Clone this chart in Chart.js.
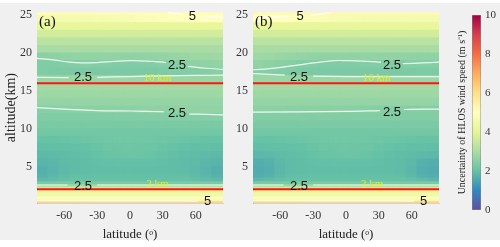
<!DOCTYPE html>
<html><head><meta charset="utf-8">
<script src="https://cdn.jsdelivr.net/npm/chart.js@4/dist/chart.umd.min.js"></script>
<style>
html,body{margin:0;padding:0;}
body{width:500px;height:247px;background:#fff;position:relative;overflow:hidden;}
#bg{position:absolute;left:0;top:3px;width:500px;height:237px;background:#f0f0f0;}
canvas{position:absolute;top:0;}
</style></head><body>
<div id="bg"></div>
<canvas id="ca" width="230" height="247" style="left:0"></canvas>
<canvas id="cb" width="230" height="247" style="left:216px"></canvas>
<canvas id="cc" width="54" height="247" style="left:446px"></canvas>
<script>
// ---------- data ----------
const lats = [-80,-70,-60,-50,-40,-30,-20,-10,0,10,20,30,40,50,60,70,80];
const altEdges = [0.2,0.35,0.6,1.0,1.5,2.0,2.3,2.6,3.0,3.5,4,5,6,7,8,9,10,11,12,13,14,15,16,17,18,19,20,21,22,23,24,25,25.5];
const xTicks = [-60,-30,0,30,60];
const yTicks = [5,10,15,20,25];
const cbTicks = [0,2,4,6,8,10];
const gridLats = [-78.5,-64.2,-49.9,-35.6,-21.3,-7,7.3,21.6,35.9,50.2,64.5,78.8];
const gridAlts = [1.2,3.05,4.9,6.75,8.6,10.45,12.3,14.15,16,17.85,19.7,21.55,23.4,25.25];
const cmap = ['#5e4fa2','#3288bd','#66c2a5','#abdda4','#e6f598','#ffffbf','#fee08b','#fdae61','#f46d43','#d53e4f','#9e0142'];

const gridA = [
[6.2,6.2,6.2,6.2,6.2,6.2,6.2,6.2,6.2,6.2,6.2,6.2,6.2,6.2,6.2,6.2,6.2],
[5.3,5.3,5.3,5.3,5.3,5.3,5.3,5.3,5.3,5.3,5.3,5.3,5.3,5.3,5.3,5.3,5.3],
[4.8,4.8,4.8,4.8,4.8,4.8,4.8,4.8,4.8,4.8,4.8,4.8,4.8,4.8,4.8,4.8,4.8],
[4.4,4.4,4.4,4.4,4.4,4.4,4.4,4.4,4.4,4.4,4.4,4.4,4.4,4.4,4.4,4.4,4.4],
[4.0,4.0,4.0,4.0,4.0,4.0,4.0,4.0,4.0,4.0,4.0,4.0,4.0,4.0,4.0,4.0,4.0],
[3.5,3.5,3.5,3.5,3.5,3.5,3.5,3.5,3.5,3.5,3.5,3.5,3.5,3.5,3.5,3.5,3.5],
[2.8,2.8,2.8,2.8,2.8,2.8,2.8,2.8,2.8,2.8,2.8,2.8,2.8,2.8,2.8,2.8,2.8],
[2.3,2.3,2.3,2.3,2.3,2.3,2.3,2.3,2.3,2.3,2.3,2.3,2.3,2.3,2.3,2.3,2.3],
[1.85,1.9,1.95,2.0,2.0,2.0,2.0,2.0,2.0,2.0,2.0,2.0,2.0,2.0,1.95,1.9,1.85],
[1.72,1.8,1.9,1.95,1.95,1.95,1.95,1.95,1.95,1.95,1.95,1.95,1.95,1.95,1.9,1.8,1.72],
[1.68,1.75,1.85,1.9,1.92,1.93,1.93,1.93,1.93,1.93,1.93,1.93,1.92,1.9,1.85,1.75,1.68],
[1.75,1.8,1.87,1.9,1.92,1.95,1.97,1.98,1.98,1.98,1.97,1.95,1.92,1.9,1.87,1.8,1.75],
[1.85,1.87,1.9,1.92,1.95,2.0,2.05,2.08,2.1,2.08,2.05,2.0,1.95,1.92,1.9,1.87,1.85],
[1.93,1.94,1.95,1.97,2.0,2.05,2.1,2.12,2.13,2.12,2.1,2.05,2.0,1.97,1.95,1.94,1.93],
[2.02,2.03,2.05,2.07,2.1,2.13,2.15,2.17,2.17,2.17,2.15,2.13,2.1,2.07,2.05,2.03,2.02],
[2.2,2.2,2.2,2.2,2.2,2.2,2.2,2.2,2.2,2.2,2.2,2.2,2.2,2.2,2.2,2.2,2.2],
[2.28,2.28,2.28,2.28,2.28,2.28,2.28,2.28,2.28,2.28,2.28,2.28,2.28,2.28,2.28,2.28,2.28],
[2.36,2.36,2.37,2.37,2.38,2.38,2.39,2.39,2.4,2.4,2.41,2.42,2.43,2.44,2.45,2.46,2.47],
[2.47,2.48,2.5,2.51,2.52,2.53,2.54,2.55,2.55,2.56,2.57,2.58,2.59,2.6,2.61,2.62,2.63],
[2.68,2.68,2.68,2.68,2.68,2.68,2.68,2.68,2.68,2.68,2.68,2.68,2.68,2.68,2.68,2.68,2.68],
[2.78,2.78,2.78,2.78,2.78,2.78,2.78,2.78,2.78,2.78,2.78,2.78,2.78,2.78,2.78,2.78,2.78],
[2.88,2.88,2.88,2.88,2.88,2.88,2.88,2.88,2.88,2.88,2.88,2.88,2.88,2.88,2.88,2.88,2.88],
[2.75,2.75,2.75,2.75,2.75,2.75,2.75,2.75,2.75,2.75,2.75,2.75,2.75,2.75,2.75,2.75,2.75],
[2.36,2.34,2.32,2.3,2.3,2.3,2.3,2.3,2.3,2.3,2.31,2.33,2.36,2.39,2.42,2.45,2.48],
[2.38,2.38,2.4,2.42,2.43,2.42,2.4,2.38,2.38,2.38,2.4,2.43,2.47,2.52,2.56,2.6,2.63],
[2.5,2.55,2.6,2.63,2.64,2.64,2.62,2.6,2.6,2.61,2.63,2.66,2.7,2.74,2.78,2.8,2.82],
[2.95,2.95,2.95,2.95,2.95,2.95,2.95,2.95,2.95,2.95,2.95,2.95,2.95,2.95,2.95,2.95,2.95],
[3.25,3.25,3.25,3.25,3.25,3.25,3.25,3.25,3.25,3.25,3.25,3.25,3.25,3.25,3.25,3.25,3.25],
[3.65,3.65,3.65,3.65,3.65,3.65,3.65,3.65,3.65,3.65,3.65,3.65,3.65,3.65,3.65,3.65,3.65],
[4.1,4.1,4.1,4.1,4.1,4.1,4.1,4.1,4.1,4.1,4.1,4.1,4.1,4.1,4.1,4.1,4.1],
[4.55,4.55,4.55,4.55,4.55,4.6,4.6,4.65,4.7,4.75,4.8,4.85,4.9,4.95,5.0,4.95,4.9],
[5.1,5.1,5.1,5.1,5.1,5.1,5.1,5.1,5.1,5.1,5.1,5.1,5.1,5.1,5.1,5.1,5.1]
];
const gridB = [
[6.2,6.2,6.2,6.2,6.2,6.2,6.2,6.2,6.2,6.2,6.2,6.2,6.2,6.2,6.2,6.2,6.2],
[5.3,5.3,5.3,5.3,5.3,5.3,5.3,5.3,5.3,5.3,5.3,5.3,5.3,5.3,5.3,5.3,5.3],
[4.8,4.8,4.8,4.8,4.8,4.8,4.8,4.8,4.8,4.8,4.8,4.8,4.8,4.8,4.8,4.8,4.8],
[4.4,4.4,4.4,4.4,4.4,4.4,4.4,4.4,4.4,4.4,4.4,4.4,4.4,4.4,4.4,4.4,4.4],
[4.0,4.0,4.0,4.0,4.0,4.0,4.0,4.0,4.0,4.0,4.0,4.0,4.0,4.0,4.0,4.0,4.0],
[3.5,3.5,3.5,3.5,3.5,3.5,3.5,3.5,3.5,3.5,3.5,3.5,3.5,3.5,3.5,3.5,3.5],
[2.8,2.8,2.8,2.8,2.8,2.8,2.8,2.8,2.8,2.8,2.8,2.8,2.8,2.8,2.8,2.8,2.8],
[2.3,2.3,2.3,2.3,2.3,2.3,2.3,2.3,2.3,2.3,2.3,2.3,2.3,2.3,2.3,2.3,2.3],
[1.8,1.88,1.95,2.0,2.0,2.0,2.0,2.0,2.0,2.0,2.0,2.0,2.0,2.0,1.95,1.88,1.8],
[1.64,1.7,1.85,1.93,1.95,1.95,1.95,1.95,1.95,1.95,1.95,1.95,1.95,1.93,1.85,1.7,1.64],
[1.6,1.66,1.8,1.9,1.92,1.93,1.93,1.93,1.93,1.93,1.93,1.93,1.92,1.9,1.8,1.66,1.6],
[1.66,1.7,1.82,1.9,1.92,1.95,1.97,1.98,1.98,1.98,1.97,1.95,1.92,1.9,1.82,1.7,1.66],
[1.82,1.85,1.9,1.92,1.95,2.0,2.05,2.08,2.1,2.08,2.05,2.0,1.95,1.92,1.9,1.85,1.82],
[1.93,1.94,1.95,1.97,2.0,2.05,2.1,2.12,2.13,2.12,2.1,2.05,2.0,1.97,1.95,1.94,1.93],
[2.02,2.03,2.05,2.07,2.1,2.13,2.15,2.17,2.17,2.17,2.15,2.13,2.1,2.07,2.05,2.03,2.02],
[2.2,2.2,2.2,2.2,2.2,2.2,2.2,2.2,2.2,2.2,2.2,2.2,2.2,2.2,2.2,2.2,2.2],
[2.3,2.3,2.3,2.3,2.3,2.3,2.3,2.3,2.3,2.3,2.3,2.3,2.3,2.3,2.3,2.3,2.3],
[2.42,2.42,2.42,2.42,2.42,2.42,2.42,2.42,2.42,2.42,2.42,2.42,2.42,2.42,2.42,2.42,2.42],
[2.55,2.55,2.54,2.53,2.52,2.52,2.51,2.5,2.5,2.49,2.48,2.47,2.46,2.46,2.45,2.45,2.45],
[2.68,2.68,2.68,2.68,2.68,2.68,2.68,2.68,2.68,2.68,2.68,2.68,2.68,2.68,2.68,2.68,2.68],
[2.78,2.78,2.78,2.78,2.78,2.78,2.78,2.78,2.78,2.78,2.78,2.78,2.78,2.78,2.78,2.78,2.78],
[2.88,2.88,2.88,2.88,2.88,2.88,2.88,2.88,2.88,2.88,2.88,2.88,2.88,2.88,2.88,2.88,2.88],
[2.75,2.75,2.75,2.75,2.75,2.75,2.75,2.75,2.75,2.75,2.75,2.75,2.75,2.75,2.75,2.75,2.75],
[2.48,2.45,2.4,2.36,2.33,2.3,2.3,2.3,2.3,2.3,2.3,2.3,2.3,2.31,2.32,2.33,2.33],
[2.63,2.58,2.52,2.46,2.42,2.4,2.38,2.38,2.38,2.38,2.39,2.4,2.41,2.42,2.43,2.43,2.43],
[2.82,2.78,2.74,2.7,2.66,2.63,2.61,2.6,2.6,2.61,2.62,2.62,2.62,2.62,2.6,2.6,2.6],
[2.95,2.95,2.95,2.95,2.95,2.95,2.95,2.95,2.95,2.95,2.95,2.95,2.95,2.95,2.95,2.95,2.95],
[3.25,3.25,3.25,3.25,3.25,3.25,3.25,3.25,3.25,3.25,3.25,3.25,3.25,3.25,3.25,3.25,3.25],
[3.65,3.65,3.65,3.65,3.65,3.65,3.65,3.65,3.65,3.65,3.65,3.65,3.65,3.65,3.65,3.65,3.65],
[4.1,4.1,4.1,4.1,4.1,4.1,4.1,4.1,4.1,4.1,4.1,4.1,4.1,4.1,4.1,4.1,4.1],
[5.0,4.98,4.95,4.9,4.85,4.8,4.75,4.7,4.65,4.6,4.55,4.55,4.55,4.55,4.55,4.55,4.55],
[5.2,5.2,5.2,5.2,5.2,5.2,5.2,5.2,5.2,5.2,5.2,5.2,5.2,5.2,5.2,5.2,5.2]
];

// contour 2.5 / 5 segments: [lat, alt]
const contoursA = [
 [[-85,19.3],[-70,19.1],[-55,18.8],[-45,18.7],[-30,18.75],[-15,18.9],[0,19.0],[15,18.95],[33,18.75]],
 [[53,18.25],[70,18.0],[85,17.85]],
 [[-85,16.8],[-56,16.75]],
 [[-30,16.8],[0,16.9],[30,17.0],[60,17.05],[85,17.1]],
 [[-85,12.8],[-60,12.6],[-30,12.4],[0,12.35],[31,12.25]],
 [[54,11.95],[70,11.9],[85,11.85]],
 [[-85,2.58],[-57,2.58]],
 [[-30,2.58],[0,2.58],[40,2.58],[85,2.58]],
 [[35,25.35],[48,25.1]],
 [[66,24.85],[85,24.75]],
 [[-85,0.5],[30,0.48],[62,0.45]]
];
const contoursB = [
 [[-85,17.8],[-70,17.95],[-50,18.3],[-30,18.7],[-10,19.0],[0,19.0],[20,18.9],[32,18.8]],
 [[52,18.6],[70,18.7],[85,18.8]],
 [[-85,17.3],[-56,17.1]],
 [[-30,16.95],[0,16.9],[40,16.9],[85,16.9]],
 [[-85,12.2],[0,12.3],[31,12.4]],
 [[53,12.55],[70,12.6],[85,12.6]],
 [[-85,2.58],[-57,2.58]],
 [[-30,2.58],[0,2.58],[40,2.58],[85,2.58]],
 [[-85,24.6],[-70,24.7],[-52,24.85]],
 [[-32,25.0],[-15,25.3]],
 [[-85,0.5],[30,0.48],[62,0.45]]
];
const redLines = [16, 2];
const labelsA = [
 {lat:-43,alt:16.8,text:'2.5'},{lat:43,alt:18.4,text:'2.5'},{lat:43,alt:12.0,text:'2.5'},
 {lat:-43,alt:2.35,text:'2.5'},{lat:57,alt:24.9,text:'5'},{lat:71,alt:0.35,text:'5'}
];
const labelsB = [
 {lat:-43,alt:16.8,text:'2.5'},{lat:42,alt:18.4,text:'2.5'},{lat:42,alt:12.2,text:'2.5'},
 {lat:-43,alt:2.35,text:'2.5'},{lat:-42,alt:24.9,text:'5'},{lat:71,alt:0.35,text:'5'}
];
const heightLabelsA = [{lat:25,alt:16.65,text:'16 km'},{lat:25,alt:2.72,text:'2 km'}];
const heightLabelsB = [{lat:28,alt:16.65,text:'16 km'},{lat:24,alt:2.72,text:'2 km'}];

// ---------- helpers ----------
function hexToRgb(h){return [parseInt(h.substr(1,2),16),parseInt(h.substr(3,2),16),parseInt(h.substr(5,2),16)];}
const cmapRgb = cmap.map(hexToRgb);
function colorFor(v){
  const t = Math.max(0, Math.min(10, v));
  const i = Math.min(9, Math.floor(t)); const f = t - i;
  const a = cmapRgb[i], b = cmapRgb[i+1];
  const c = a.map((x,k)=>Math.round(x + (b[k]-x)*f));
  return 'rgb('+c.join(',')+')';
}
Chart.defaults.font.family = "'Liberation Serif', serif";
Chart.defaults.color = '#333';

const textPlugin = {
  id:'txt',
  afterDatasetsDraw(chart, args, opts){
    const {ctx, scales:{x,y}, chartArea:ca} = chart;
    ctx.save();
    ctx.textAlign='center'; ctx.textBaseline='middle';
    ctx.font = "13px 'Liberation Sans', sans-serif"; ctx.fillStyle='#111';
    for (const t of opts.labels) ctx.fillText(t.text, x.getPixelForValue(t.lat), y.getPixelForValue(t.alt));
    ctx.font = "11px 'Liberation Serif', serif"; ctx.fillStyle='#eaea20';
    for (const t of opts.hlabels) ctx.fillText(t.text, x.getPixelForValue(t.lat), y.getPixelForValue(t.alt));
    ctx.font = "15px 'Liberation Serif', serif"; ctx.fillStyle='#111'; ctx.textAlign='left';
    ctx.fillText(opts.panel, ca.left+2, ca.top+10);
    ctx.restore();
  }
};

function makePanel(id, grid, contours, labels, hlabels, panel, showTitle){
  const datasets = [];
  for (let i=0;i<altEdges.length-1;i++){
    datasets.push({type:'bar', order:3, grouped:false, categoryPercentage:1, barPercentage:1,
      inflateAmount:0.6, borderWidth:0,
      data: lats.map(l=>({x:l, y:[altEdges[i], altEdges[i+1]]})),
      backgroundColor: grid[i].map(colorFor)});
  }
  contours.forEach(seg=>datasets.push({type:'line', order:2, data: seg.map(p=>({x:p[0],y:p[1]})),
    borderColor:'rgba(255,255,255,0.85)', borderWidth:1.2, pointRadius:0, tension:0.4, fill:false}));
  redLines.forEach(h=>datasets.push({type:'line', order:1, data:[{x:-85,y:h},{x:85,y:h}],
    borderColor:'#ff1414', borderWidth:2, pointRadius:0, fill:false}));
  new Chart(document.getElementById(id), {
    type:'bar',
    data:{datasets},
    options:{
      responsive:false, animation:false, events:[],
      layout:{padding:{left:0,right:7,top:8,bottom:0}},
      plugins:{legend:{display:false}, tooltip:{enabled:false}, txt:{labels, hlabels, panel}},
      scales:{
        x:{type:'linear', min:-85, max:85, offset:false,
          afterBuildTicks:s=>{s.ticks = xTicks.map(v=>({value:v}));},
          afterFit:s=>{s.height=44;},
          grid:{display:false, drawTicks:false, offset:false}, border:{display:true, color:'rgba(0,0,0,0.12)'},
          ticks:{padding:6, font:{size:12}, color:'#333', maxRotation:0},
          title:{display:true, text:'latitude (ᵒ)', font:{size:13}, color:'#222', padding:{top:0,bottom:5}}},
        y:{type:'linear', min:0.2, max:25.4,
          afterBuildTicks:s=>{s.ticks = yTicks.map(v=>({value:v}));},
          afterFit:s=>{s.width=37;},
          grid:{display:false, drawTicks:false}, border:{display:true, color:'rgba(0,0,0,0.12)'},
          ticks:{padding:5, font:{size:12}, color:'#333'},
          title:{display:showTitle, text:'altitude(km)', font:{size:14}, color:'#222', padding:{top:3,bottom:0}}},
        xg:{type:'linear', min:-85, max:85, position:'bottom', z:1,
          afterBuildTicks:s=>{s.ticks = gridLats.map(v=>({value:v}));},
          afterFit:s=>{s.height=0;},
          ticks:{display:false}, border:{display:false},
          grid:{color:'rgba(255,255,255,0.22)', lineWidth:1, drawTicks:false}},
        yg:{type:'linear', min:0.2, max:25.4, position:'left', z:1,
          afterBuildTicks:s=>{s.ticks = gridAlts.map(v=>({value:v}));},
          afterFit:s=>{s.width=0;},
          ticks:{display:false}, border:{display:false},
          grid:{color:'rgba(255,255,255,0.22)', lineWidth:1, drawTicks:false}}
      }
    },
    plugins:[textPlugin]
  });
}
makePanel('ca', gridA, contoursA, labelsA, heightLabelsA, '(a)', true);
makePanel('cb', gridB, contoursB, labelsB, heightLabelsB, '(b)', false);

// colorbar
new Chart(document.getElementById('cc'), {
  type:'bar',
  data:{labels:['cb'], datasets:[{data:[[cbTicks[0], cbTicks[cbTicks.length-1]]],
    backgroundColor:(c)=>{
      const ch=c.chart; if(!ch.chartArea) return cmap[5];
      const ys=ch.scales.y;
      const g=ch.ctx.createLinearGradient(0, ys.getPixelForValue(0), 0, ys.getPixelForValue(10));
      cmap.forEach((col,i)=>g.addColorStop(i/(cmap.length-1), col));
      return g;
    },
    borderColor:'#888', borderWidth:0.8, borderSkipped:false, categoryPercentage:1, barPercentage:1}]},
  options:{
    responsive:false, animation:false, events:[],
    layout:{padding:{left:0,right:0,top:15,bottom:37}},
    plugins:{legend:{display:false}, tooltip:{enabled:false}},
    scales:{
      x:{display:false},
      y:{position:'right', min:0, max:10,
        afterBuildTicks:s=>{s.ticks = cbTicks.map(v=>({value:v}));},
        afterFit:s=>{s.width=19;},
        grid:{display:false, drawTicks:false}, border:{display:false},
        ticks:{padding:4, font:{size:11}, color:'#333'}},
      yl:{position:'left', min:0, max:10,
        afterFit:s=>{s.width=26;},
        grid:{display:false, drawTicks:false}, border:{display:false}, ticks:{display:false},
        title:{display:true, text:'Uncertainty of HLOS wind speed (m s⁻¹)', font:{size:10}, color:'#222', padding:{top:10,bottom:0}}}
    }
  }
});
</script>
</body></html>
